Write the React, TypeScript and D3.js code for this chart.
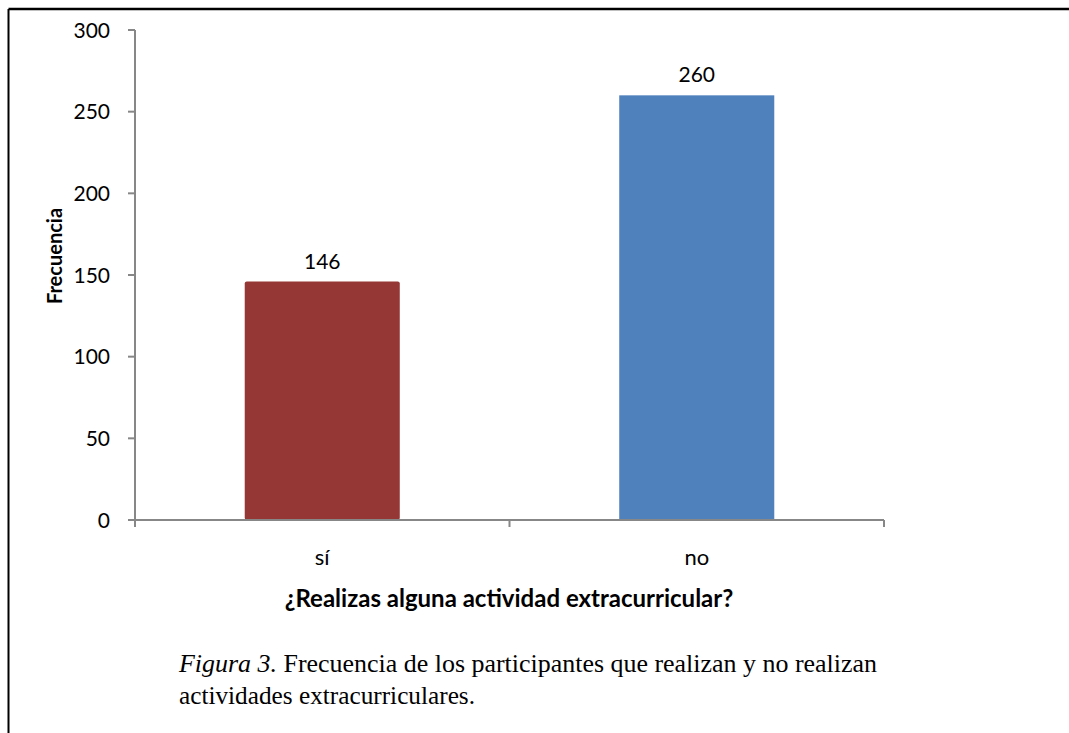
import * as d3 from "d3";

const categories = ["sí", "no"];
const values = [146, 260];
const colors = ["#953735", "#4f81bd"];
const yTicks = [0, 50, 100, 150, 200, 250, 300];

const W = 1069;
const H = 733;
const sans = "Lato, 'Open Sans', sans-serif";
const serif = "'Liberation Serif', 'Times New Roman', serif";

export default function App() {
  const left = 135;
  const right = 884;
  const top = 30;
  const bottom = 520;

  const x = d3.scaleBand<string>().domain(categories).range([left, right]);
  const y = d3.scaleLinear().domain([0, 300]).range([bottom, top]);
  const barW = x.bandwidth() * 0.414;
  const axisColor = "#878787";

  // Excel-style ticks sit between the categories
  const bounds = [left, ...categories.map((c) => (x(c) as number) + x.bandwidth())];

  return (
    <svg
      width={W}
      height={H}
      style={{ position: "absolute", left: 0, top: 0, background: "#fff" }}
    >
      {/* frame */}
      <line x1={8.5} y1={9} x2={W} y2={9} stroke="#000" strokeWidth={2.5} />
      <line x1={8.5} y1={9} x2={8.5} y2={H} stroke="#000" strokeWidth={2} />

      {/* bars */}
      {categories.map((c, i) => (
        <rect
          key={c}
          x={(x(c) as number) + (x.bandwidth() - barW) / 2}
          y={y(values[i])}
          width={barW}
          height={bottom - y(values[i])}
          fill={colors[i]}
          rx={i === 0 ? 2 : 0}
        />
      ))}

      {/* value labels */}
      {categories.map((c, i) => (
        <text
          key={c}
          x={(x(c) as number) + x.bandwidth() / 2}
          y={y(values[i]) - 13}
          textAnchor="middle"
          fontFamily={sans}
          fontSize={21}
          fill="#000"
        >
          {values[i]}
        </text>
      ))}

      {/* y axis */}
      <line x1={left} y1={top} x2={left} y2={bottom + 7} stroke={axisColor} strokeWidth={2} />
      {yTicks.map((t) => (
        <g key={t}>
          <line x1={left - 7} x2={left} y1={y(t)} y2={y(t)} stroke={axisColor} strokeWidth={2} />
          <text
            x={110}
            y={y(t)}
            dy="0.36em"
            textAnchor="end"
            fontFamily={sans}
            fontSize={21}
            fill="#000"
          >
            {t}
          </text>
        </g>
      ))}

      {/* x axis */}
      <line x1={left} y1={bottom} x2={right} y2={bottom} stroke={axisColor} strokeWidth={2} />
      {bounds.map((b, i) => (
        <line key={i} x1={b} x2={b} y1={bottom} y2={bottom + 7} stroke={axisColor} strokeWidth={2} />
      ))}
      {categories.map((c) => (
        <text
          key={c}
          x={(x(c) as number) + x.bandwidth() / 2}
          y={565}
          textAnchor="middle"
          fontFamily={sans}
          fontSize={22}
          fill="#000"
        >
          {c}
        </text>
      ))}

      {/* axis titles */}
      <text
        x={509}
        y={607}
        textAnchor="middle"
        fontFamily={sans}
        fontWeight="bold"
        fontSize={24}
        fill="#000"
      >
        ¿Realizas alguna actividad extracurricular?
      </text>
      <text
        transform="translate(62,256) rotate(-90)"
        textAnchor="middle"
        fontFamily={sans}
        fontWeight="bold"
        fontSize={20}
        fill="#000"
      >
        Frecuencia
      </text>

      {/* caption */}
      <text
        x={179}
        y={672}
        fontFamily={serif}
        fontSize={24.5}
        fill="#000"
        textLength={698}
        lengthAdjust="spacingAndGlyphs"
      >
        <tspan fontStyle="italic">Figura 3.</tspan>
        <tspan> Frecuencia de los participantes que realizan y no realizan</tspan>
      </text>
      <text
        x={179}
        y={704}
        fontFamily={serif}
        fontSize={24.5}
        fill="#000"
        textLength={296}
        lengthAdjust="spacingAndGlyphs"
      >
        actividades extracurriculares.
      </text>
    </svg>
  );
}
